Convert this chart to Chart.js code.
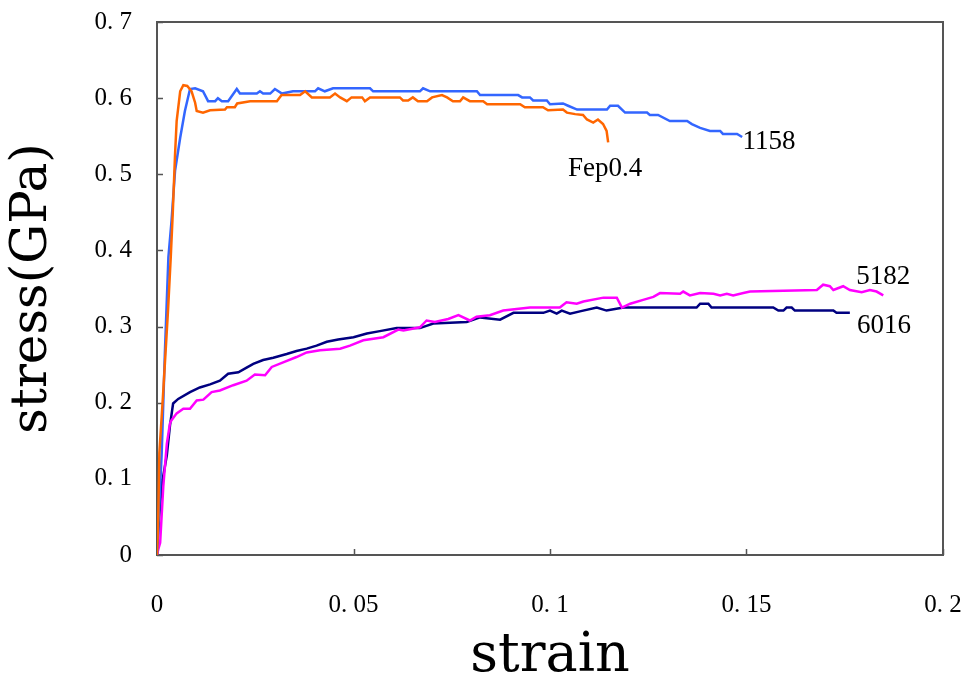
<!DOCTYPE html>
<html>
<head>
<meta charset="utf-8">
<script src="https://cdn.jsdelivr.net/npm/chart.js@4.4.0/dist/chart.umd.min.js"></script>
<style>
    body { margin: 0; background: #fff; }
    #wrap { width: 971px; height: 684px; }
</style>
</head>
<body>
<div id="wrap"><canvas id="stressChart" width="971" height="684"></canvas></div>
<script>
// series names
const seriesNames = ['Fep0.4', '1158', '5182', '6016'];

// sample Fep0.4 (orange)
const strainFep = [0, 0.0003, 0.0006, 0.0015, 0.0028, 0.0035, 0.0040, 0.0046, 0.0050, 0.0059, 0.0067, 0.0077, 0.0088, 0.0097, 0.0101, 0.0117, 0.0135, 0.0173, 0.0178, 0.0198, 0.0204, 0.0237, 0.0305, 0.0317, 0.0364, 0.0377, 0.0394, 0.0440, 0.0453, 0.0466, 0.0483, 0.0495, 0.0522, 0.0529, 0.0542, 0.0618, 0.0626, 0.0639, 0.0651, 0.0664, 0.0687, 0.0700, 0.0725, 0.0738, 0.0753, 0.0771, 0.0779, 0.0796, 0.0830, 0.0840, 0.0924, 0.0936, 0.0982, 0.0995, 0.1033, 0.1043, 0.1064, 0.1084, 0.1094, 0.1110, 0.1122, 0.1135, 0.1144, 0.1148];
const stressFep = [0, 0.046, 0.134, 0.207, 0.321, 0.391, 0.448, 0.527, 0.570, 0.609, 0.617, 0.616, 0.609, 0.594, 0.583, 0.581, 0.584, 0.585, 0.588, 0.588, 0.593, 0.596, 0.596, 0.604, 0.604, 0.609, 0.601, 0.601, 0.606, 0.601, 0.596, 0.601, 0.601, 0.596, 0.601, 0.601, 0.597, 0.597, 0.601, 0.596, 0.596, 0.601, 0.604, 0.601, 0.596, 0.596, 0.601, 0.596, 0.596, 0.592, 0.592, 0.588, 0.588, 0.584, 0.585, 0.581, 0.579, 0.578, 0.572, 0.568, 0.572, 0.566, 0.557, 0.542];

// sample 1158 (blue)
const strain1158 = [0, 0.0004, 0.0012, 0.0020, 0.0029, 0.0037, 0.0046, 0.0059, 0.0071, 0.0084, 0.0097, 0.0117, 0.0130, 0.0148, 0.0155, 0.0165, 0.0181, 0.0203, 0.0211, 0.0254, 0.0262, 0.0270, 0.0288, 0.0300, 0.0318, 0.0346, 0.0402, 0.0410, 0.0427, 0.0448, 0.0542, 0.0550, 0.0669, 0.0677, 0.0695, 0.0814, 0.0822, 0.0919, 0.0929, 0.0949, 0.0957, 0.0992, 0.1000, 0.1033, 0.1046, 0.1069, 0.1145, 0.1153, 0.1173, 0.1191, 0.1247, 0.1254, 0.1275, 0.1305, 0.1349, 0.1361, 0.1382, 0.1407, 0.1433, 0.1440, 0.1476, 0.1489];
const stress1158 = [0, 0.046, 0.134, 0.265, 0.391, 0.439, 0.505, 0.548, 0.583, 0.612, 0.613, 0.609, 0.596, 0.596, 0.600, 0.596, 0.596, 0.612, 0.606, 0.606, 0.609, 0.606, 0.606, 0.612, 0.606, 0.609, 0.609, 0.613, 0.609, 0.613, 0.613, 0.609, 0.609, 0.613, 0.609, 0.609, 0.604, 0.604, 0.601, 0.601, 0.597, 0.597, 0.592, 0.593, 0.590, 0.585, 0.585, 0.590, 0.590, 0.581, 0.581, 0.578, 0.578, 0.570, 0.570, 0.566, 0.561, 0.557, 0.557, 0.553, 0.553, 0.549];

// sample 5182 (magenta)
const strain5182 = [0, 0.0003, 0.0008, 0.0016, 0.0025, 0.0033, 0.0037, 0.0050, 0.0067, 0.0084, 0.0101, 0.0118, 0.0139, 0.0160, 0.0194, 0.0228, 0.0249, 0.0275, 0.0292, 0.0321, 0.0355, 0.0381, 0.0415, 0.0466, 0.0491, 0.0525, 0.0576, 0.0614, 0.0627, 0.0669, 0.0686, 0.0707, 0.0741, 0.0767, 0.0796, 0.0813, 0.0847, 0.0881, 0.0949, 0.1025, 0.1042, 0.1068, 0.1085, 0.1136, 0.1170, 0.1183, 0.1204, 0.1237, 0.1263, 0.1280, 0.1331, 0.1339, 0.1356, 0.1382, 0.1416, 0.1433, 0.1450, 0.1466, 0.1492, 0.1509, 0.1679, 0.1695, 0.1712, 0.1721, 0.1746, 0.1763, 0.1793, 0.1814, 0.1831, 0.1848];
const stress5182 = [0, 0.007, 0.016, 0.090, 0.146, 0.173, 0.177, 0.186, 0.192, 0.192, 0.203, 0.204, 0.214, 0.216, 0.223, 0.229, 0.237, 0.236, 0.247, 0.253, 0.260, 0.266, 0.269, 0.271, 0.275, 0.282, 0.286, 0.296, 0.295, 0.299, 0.308, 0.306, 0.310, 0.315, 0.308, 0.313, 0.315, 0.321, 0.325, 0.325, 0.332, 0.330, 0.333, 0.338, 0.338, 0.325, 0.330, 0.335, 0.339, 0.344, 0.343, 0.346, 0.341, 0.344, 0.343, 0.341, 0.343, 0.341, 0.344, 0.346, 0.348, 0.355, 0.353, 0.348, 0.353, 0.348, 0.345, 0.348, 0.346, 0.341];

// sample 6016 (navy)
const strain6016 = [0, 0.0005, 0.0012, 0.0025, 0.0033, 0.0041, 0.0054, 0.0084, 0.0109, 0.0135, 0.0160, 0.0181, 0.0207, 0.0228, 0.0245, 0.0270, 0.0296, 0.0330, 0.0355, 0.0381, 0.0406, 0.0432, 0.0461, 0.0500, 0.0534, 0.0567, 0.0610, 0.0669, 0.0703, 0.0788, 0.0822, 0.0873, 0.0907, 0.0983, 0.1000, 0.1017, 0.1030, 0.1051, 0.1076, 0.1119, 0.1144, 0.1187, 0.1373, 0.1382, 0.1403, 0.1411, 0.1568, 0.1581, 0.1594, 0.1602, 0.1615, 0.1623, 0.1721, 0.1729, 0.1763];
const stress6016 = [0, 0.046, 0.092, 0.131, 0.170, 0.199, 0.205, 0.214, 0.220, 0.224, 0.229, 0.238, 0.240, 0.246, 0.251, 0.256, 0.259, 0.264, 0.268, 0.271, 0.275, 0.280, 0.283, 0.286, 0.291, 0.294, 0.298, 0.298, 0.304, 0.306, 0.312, 0.309, 0.318, 0.318, 0.321, 0.317, 0.321, 0.317, 0.320, 0.325, 0.321, 0.325, 0.325, 0.330, 0.330, 0.325, 0.325, 0.321, 0.321, 0.325, 0.325, 0.321, 0.321, 0.318, 0.318];

// tick labels
const xTickLabels = ['0', '0. 05', '0. 1', '0. 15', '0. 2'];
const yTickLabels = ['0', '0. 1', '0. 2', '0. 3', '0. 4', '0. 5', '0. 6', '0. 7'];

const seriesColors = ['#FF6600', '#3366FF', '#FF00FF', '#000080'];

function toPoints(xs, ys) {
    return xs.map((v, i) => ({ x: v, y: ys[i] }));
}

const seriesData = [
    toPoints(strainFep, stressFep),
    toPoints(strain1158, stress1158),
    toPoints(strain5182, stress5182),
    toPoints(strain6016, stress6016)
];

// where each curve name sits (strain, stress)
const labelAnchors = [[0.1046, 0.498], [0.1490, 0.533], [0.1779, 0.3565], [0.1781, 0.291]];

// box around the plot and ticks pointing inwards
const framePlugin = {
    id: 'frame',
    beforeDatasetsDraw(chart) {
        const { ctx, chartArea: a, scales: { x, y } } = chart;
        ctx.save();
        ctx.strokeStyle = '#555';
        ctx.lineWidth = 2;
        ctx.strokeRect(a.left, a.top, a.right - a.left, a.bottom - a.top);
        ctx.beginPath();
        x.ticks.forEach(t => {
            const px = Math.round(x.getPixelForValue(t.value)) + 0.5;
            ctx.moveTo(px, a.bottom);
            ctx.lineTo(px, a.bottom - 6);
        });
        y.ticks.forEach(t => {
            const py = Math.round(y.getPixelForValue(t.value)) + 0.5;
            ctx.moveTo(a.left, py);
            ctx.lineTo(a.left + 6, py);
        });
        ctx.lineWidth = 1.5;
        ctx.stroke();
        ctx.restore();
    },
    afterDatasetsDraw(chart) {
        const { ctx, scales: { x, y } } = chart;
        ctx.save();
        ctx.font = '27px "Liberation Serif"';
        ctx.fillStyle = '#000';
        ctx.textAlign = 'left';
        ctx.textBaseline = 'alphabetic';
        seriesNames.forEach((name, i) => {
            ctx.fillText(name, x.getPixelForValue(labelAnchors[i][0]), y.getPixelForValue(labelAnchors[i][1]));
        });
        ctx.restore();
    }
};

const ctx = document.getElementById('stressChart').getContext('2d');
const stressChart = new Chart(ctx, {
    type: 'line',
    data: {
        datasets: seriesNames.map((name, i) => ({
            label: name,
            data: seriesData[i],
            borderColor: seriesColors[i],
            borderWidth: 2.5,
            pointRadius: 0,
            fill: false,
            tension: 0
        }))
    },
    options: {
        responsive: false,
        animation: false,
        layout: { padding: { top: 22, right: 28, left: 0, bottom: 0 } },
        plugins: {
            legend: { display: false },
            tooltip: { enabled: false }
        },
        scales: {
            x: {
                type: 'linear',
                min: 0,
                max: 0.2,
                // fixed size, and no extra room for the end labels
                afterFit: (scale) => {
                    scale.height = 129;
                    scale.paddingLeft = 0;
                    scale.paddingRight = 0;
                },
                grid: { display: false, drawTicks: false },
                border: { display: false },
                ticks: {
                    stepSize: 0.05,
                    padding: 35,
                    maxRotation: 0,
                    color: '#000',
                    font: { family: 'Liberation Serif', size: 25 },
                    callback: (value, index) => xTickLabels[index]
                },
                title: {
                    display: true,
                    text: 'strain',
                    color: '#000',
                    padding: { top: 0, bottom: 0 },
                    font: { family: 'DejaVu Serif', size: 54, lineHeight: 1 }
                }
            },
            y: {
                type: 'linear',
                min: 0,
                max: 0.7,
                afterFit: (scale) => {
                    scale.width = 157;
                    scale.paddingTop = 0;
                    scale.paddingBottom = 0;
                },
                grid: { display: false, drawTicks: false },
                border: { display: false },
                ticks: {
                    stepSize: 0.1,
                    padding: 25,
                    color: '#000',
                    font: { family: 'Liberation Serif', size: 25 },
                    callback: (value, index) => yTickLabels[index]
                },
                title: {
                    display: true,
                    text: 'stress(GPa)',
                    color: '#000',
                    padding: { top: 8, bottom: 0 },
                    font: { family: 'DejaVu Serif', size: 50, lineHeight: 1 }
                }
            }
        }
    },
    plugins: [framePlugin]
});
</script>
</body>
</html>
